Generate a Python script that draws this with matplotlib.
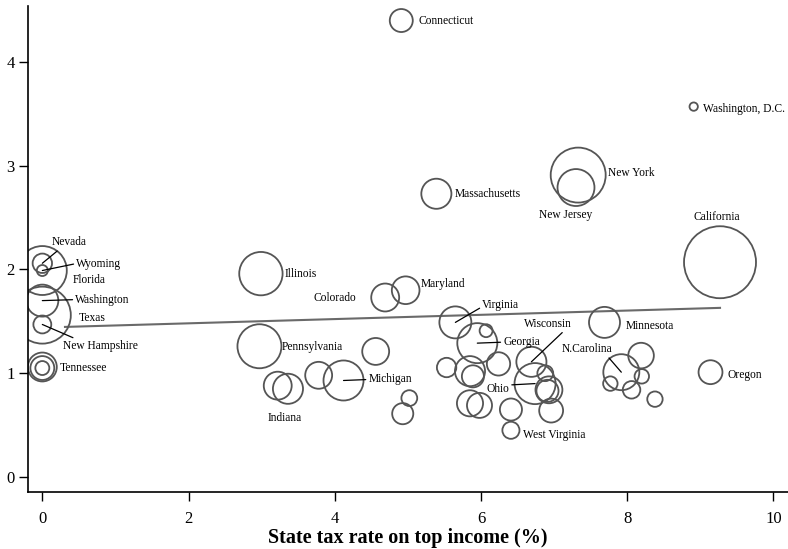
import numpy as np
import matplotlib
matplotlib.use('Agg')
import matplotlib.pyplot as plt

plt.rcParams['font.family'] = ['Liberation Serif', 'DejaVu Serif']

# Datos de cada estado: tasa de impuesto, valor en el eje y, poblacion (millones)
estados = ['Connecticut', 'Washington, D.C.', 'New York', 'New Jersey', 'Massachusetts',
           'California', 'Nevada', 'Wyoming', 'Florida', 'Illinois', 'Maryland',
           'Colorado', 'Washington', 'Texas', 'New Hampshire', 'Virginia', 'Minnesota',
           'Georgia', 'Pennsylvania', 'Wisconsin', 'Tennessee', 'N.Carolina', 'Oregon',
           'Michigan', 'Ohio', 'Indiana', 'West Virginia',
           '', '', '', '', '', '', '', '', '', '', '', '',
           '', '', '', '', '', '', '', '', '', '', '', '']
tasa = [4.91, 8.91, 7.33, 7.30, 5.39,
        9.27, 0.00, 0.00, 0.00, 2.99, 4.97,
        4.69, 0.00, 0.00, 0.00, 5.65, 7.69,
        5.95, 2.97, 6.69, 0.00, 7.92, 9.14,
        4.12, 6.74, 3.36, 6.41,
        0.00, 0.00, 3.22, 3.78, 4.56, 5.02, 4.93, 6.07, 6.24, 5.53, 5.85, 5.89,
        5.85, 5.98, 6.41, 6.88, 6.93, 6.91, 6.96, 8.19, 8.20, 7.77, 8.06, 8.38]
valor = [4.40, 3.57, 2.91, 2.79, 2.73,
         2.07, 2.06, 1.99, 1.99, 1.96, 1.80,
         1.73, 1.70, 1.56, 1.47, 1.49, 1.49,
         1.29, 1.26, 1.11, 1.06, 1.01, 1.01,
         0.93, 0.90, 0.85, 0.45,
         1.05, 1.05, 0.88, 0.98, 1.21, 0.76, 0.61, 1.41, 1.09, 1.055, 1.02, 0.97,
         0.71, 0.69, 0.65, 1.00, 0.84, 0.83, 0.64, 1.17, 0.97, 0.90, 0.84, 0.75]
poblacion = [3.8, 0.5, 21.7, 9.8, 6.5,
             37.2, 2.7, 0.87, 17.2, 13.5, 5.5,
             5.6, 7.35, 23.3, 2.3, 7.35, 6.9,
             11.5, 13.9, 6.5, 6.0, 9.3, 4.1,
             11.5, 12.1, 6.5, 2.1,
             4.1, 1.4, 5.6, 5.2, 5.2, 1.8, 3.2, 1.2, 3.9, 2.7, 6.5, 3.5,
             4.9, 4.5, 3.5, 1.8, 5.2, 3.5, 4.1, 4.7, 1.5, 1.5, 2.2, 1.7]

# Recta ajustada
ajuste_intercepto = 1.44
ajuste_pendiente = 0.0205
ajuste_x_inicio = 0.31

# Posicion de etiquetas: desplazamiento en pixeles, alineacion, punto de la guia
etiquetas = {
    'Connecticut': (17, 0, 'left', None),
    'Washington, D.C.': (9, -2, 'left', None),
    'New York': (30, 2, 'left', None),
    'New Jersey': (-10, -27, 'center', None),
    'Massachusetts': (18, 0, 'left', None),
    'California': (-3, 45, 'center', None),
    'Nevada': (27, 21, 'center', (0.25, 0)),
    'Wyoming': (34, 7, 'left', (0, 0.5)),
    'Florida': (30, -9, 'left', None),
    'Illinois': (24, 0, 'left', None),
    'Maryland': (15, 6, 'left', None),
    'Colorado': (-50, -1, 'center', None),
    'Washington': (33, 1, 'left', (0, 0.5)),
    'Texas': (36, -3, 'left', None),
    'New Hampshire': (58, -22, 'center', (0.22, 1)),
    'Virginia': (27, 17, 'left', (0, 0.4)),
    'Minnesota': (21, -4, 'left', None),
    'Georgia': (26, 1, 'left', (0, 0.5)),
    'Pennsylvania': (22, -1, 'left', None),
    'Wisconsin': (17, 38, 'center', (0.85, 0)),
    'Tennessee': (17, -1, 'left', None),
    'N.Carolina': (-34, 23, 'center', (0.88, 0)),
    'Oregon': (17, -3, 'left', None),
    'Michigan': (25, 1, 'left', (0, 0.5)),
    'Ohio': (-26, -5, 'right', (1, 0.8)),
    'Indiana': (-3, -29, 'center', None),
    'West Virginia': (12, -5, 'left', None),
}

fig = plt.figure(figsize=(7.88, 5.49), dpi=100)
ax = fig.add_axes([28/788, 1-492/549, 1-28/788, 486/549])

tamanos = 72.2 * np.array(poblacion)
ax.scatter(tasa, valor, s=tamanos, facecolors='none', edgecolors='#555555',
           linewidths=1.3, zorder=2)

xs = np.array([ajuste_x_inicio, max(tasa)])
ax.plot(xs, ajuste_intercepto + ajuste_pendiente*xs, color='#6a6a6a', lw=1.5, zorder=1)

for nombre, x, y in zip(estados, tasa, valor):
    if nombre not in etiquetas:
        continue
    dx, dy, ha, rel = etiquetas[nombre]
    props = None
    if rel is not None:
        props = dict(arrowstyle='-', color='black', lw=0.9, shrinkA=0, shrinkB=0, relpos=rel)
    ax.annotate(nombre, (x, y), xytext=(dx, dy), textcoords='offset pixels',
                ha=ha, va='center', fontsize=8.3, arrowprops=props, zorder=3)

ax.set_xlim(-0.196, 10.2)
ax.set_ylim(-0.145, 4.54)
ax.set_xticks([0, 2, 4, 6, 8, 10])
ax.set_yticks([0, 1, 2, 3, 4])
ax.spines['top'].set_visible(False)
ax.spines['right'].set_visible(False)
ax.spines['left'].set_linewidth(1.2)
ax.spines['bottom'].set_linewidth(1.2)
ax.tick_params(direction='out', length=6.5, width=1, labelsize=12, pad=3)
ax.tick_params(axis='x', pad=7)
ax.set_xlabel('State tax rate on top income (%)', fontsize=14.5, fontweight='bold', labelpad=1)

plt.savefig('out.png', dpi=100)
